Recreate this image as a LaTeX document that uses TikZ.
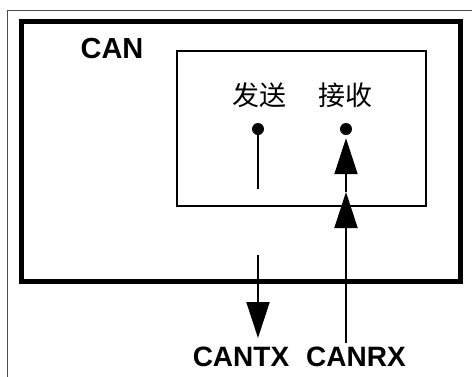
\documentclass[tikz,border=0pt]{standalone}
\usepackage{fontspec}
\setmainfont{Liberation Sans}
\newfontfamily\cjk{Noto Sans CJK SC}
\usetikzlibrary{arrows.meta}
\begin{document}
\begin{tikzpicture}[x=1pt,y=-1pt, every node/.style={inner sep=0pt}]
  \tikzstyle{sig}=[font=\fontsize{28}{30}\selectfont\bfseries]
  \tikzstyle{zh}=[font=\fontsize{27}{29}\selectfont\cjk]
  \tikzstyle{pin}=[circle,fill,minimum size=12pt]
  \tikzstyle{arr}=[-{Triangle[length=36pt,width=23pt]},line width=2pt]
  \useasboundingbox (0,0) rectangle (472,376);
  \draw[line width=1pt,black!70] (7,380) -- (7,10) -- (476,10);
  \node[draw,line width=5pt,minimum width=438.5pt,minimum height=260pt] (can) at (240.75,151) {};
  \node[draw,line width=2pt,minimum width=249pt,minimum height=155pt] (core) at (301.5,128.5) {};
  \node[sig,font=\fontsize{29}{31}\selectfont\bfseries] (title) at (112,49) {CAN};
  \node[zh] (send) at (259,95) {发送};
  \node[zh] (recv) at (345,95) {接收};
  \node[pin] (txpin) at (258,129) {};
  \node[pin] (rxpin) at (346,129) {};
  \node[sig] (cantx) at (241,357) {CANTX};
  \node[sig] (canrx) at (356,357) {CANRX};
  \coordinate (txcut) at (258,189);
  \coordinate (txout) at (258,255);
  \coordinate (txtip) at (258,338);
  \coordinate (rxfoot) at (346,343);
  \coordinate (rxmid) at (346,192);
  \draw[line width=2pt] (txpin) -- (txcut);
  \draw[arr] (txout) -- (txtip);
  \draw[arr] (rxfoot) -- (rxmid);
  \draw[arr,shorten >=3pt] (rxmid) -- (rxpin);
\end{tikzpicture}
\end{document}
